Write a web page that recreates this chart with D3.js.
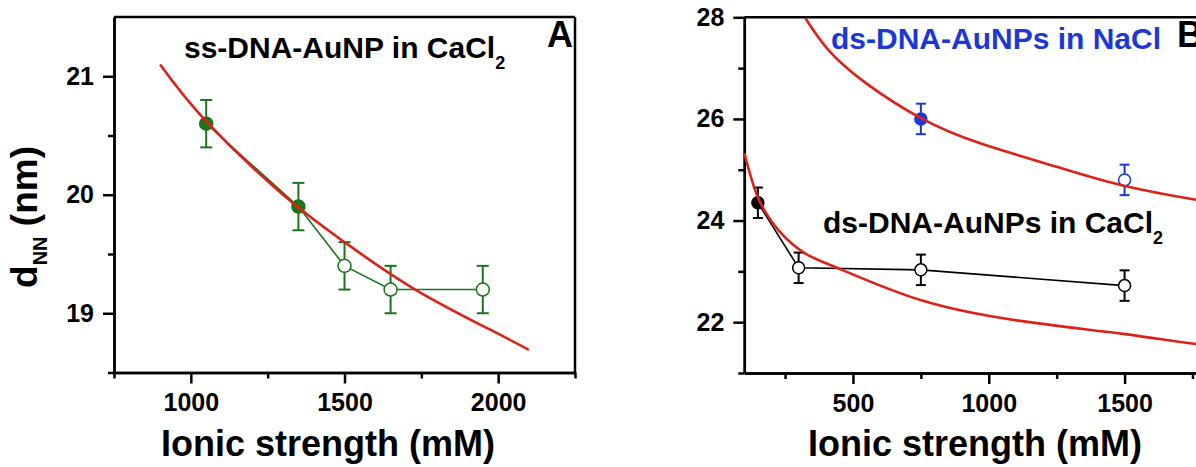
<!DOCTYPE html>
<html>
<head>
<meta charset="utf-8">
<script src="https://cdn.jsdelivr.net/npm/d3@7"></script>
<style>
  body { margin: 0; background: #fff; }
  svg { display: block; }
  text { font-family: "Liberation Sans", Arial, sans-serif; font-weight: bold; }
  .axis path, .axis line { stroke: #000; stroke-width: 2.5; }
  .axis text { font-size: 25px; fill: #000; font-family: "Liberation Sans", Arial, sans-serif; font-weight: bold; }
</style>
</head>
<body>
<div id="chart"></div>
<script>
// panel A: ss-DNA-AuNP in CaCl2
var aStrength = [1050, 1350, 1500, 1650, 1950];
var aDnn = [20.6, 19.9, 19.4, 19.2, 19.2];
var aErr = [0.2, 0.2, 0.2, 0.2, 0.2];
var aFilled = [true, true, false, false, false];
// red fitted line
var aFitX = [900, 1050, 1300, 1500, 1730, 1990, 2100];
var aFitY = [21.1, 20.62, 20.0, 19.6, 19.2, 18.84, 18.69];

// panel B: ds-DNA-AuNPs in CaCl2 and in NaCl
var caStrength = [150, 300, 750, 1500];
var caDnn = [24.35, 23.07, 23.03, 22.72];
var caErr = [0.3, 0.3, 0.3, 0.3];
var caFilled = [true, false, false, false];
var naStrength = [750, 1500];
var naDnn = [26.0, 24.8];
var naErr = [0.3, 0.3];
var naFilled = [true, false];
var naFitX = [325, 409, 549, 752, 968, 1249, 1494, 1763, 2000];
var naFitY = [27.98, 27.36, 26.7, 26.01, 25.52, 25.06, 24.69, 24.41, 24.22];
var caFitX = [100, 150, 227, 325, 464, 752, 1109, 1494, 1763, 2000];
var caFitY = [25.33, 24.46, 23.8, 23.35, 23.02, 22.43, 22.03, 21.77, 21.57, 21.45];

// ticks
var aMajorX = [1000, 1500, 2000];
var aMinorX = [750, 1250, 1750, 2250];
var aMajorY = [19, 20, 21];
var aMinorY = [18.5, 19.5, 20.5];
var bMajorX = [500, 1000, 1500];
var bMinorX = [250, 750, 1250, 1750];
var bMajorY = [22, 24, 26, 28];
var bMinorY = [21, 23, 25, 27];

var width = 1196;
var height = 467;
var red = "#de2118";
var green = "#1b741b";
var blue = "#1c38d4";

var svg = d3.select("#chart")
  .append("svg")
  .attr("width", width)
  .attr("height", height);

// scales
var xA = d3.scaleLinear().domain([750, 2250]).range([114, 575]);
var yA = d3.scaleLinear().domain([18.5, 21.5]).range([372.5, 17]);
var xB = d3.scaleLinear().domain([100, 2000]).range([744.3, 1260.4]);
var yB = d3.scaleLinear().domain([21, 28]).range([373, 17.3]);

// draw axes (major with labels, minor without)
function drawAxes(x, y, majorX, minorX, majorY, minorY) {
  svg.append("g").attr("class", "axis")
    .attr("transform", "translate(0," + y.range()[0] + ")")
    .call(d3.axisBottom(x).tickValues(minorX).tickSizeInner(6).tickSizeOuter(0).tickFormat(""));
  svg.append("g").attr("class", "axis")
    .attr("transform", "translate(0," + y.range()[0] + ")")
    .call(d3.axisBottom(x).tickValues(majorX).tickSizeInner(11).tickSizeOuter(0).tickPadding(10).tickFormat(d3.format("d")));
  svg.append("g").attr("class", "axis")
    .attr("transform", "translate(" + x.range()[0] + ",0)")
    .call(d3.axisLeft(y).tickValues(minorY).tickSizeInner(6).tickSizeOuter(0).tickFormat(""));
  svg.append("g").attr("class", "axis")
    .attr("transform", "translate(" + x.range()[0] + ",0)")
    .call(d3.axisLeft(y).tickValues(majorY).tickSizeInner(11).tickSizeOuter(0).tickPadding(9).tickFormat(d3.format("d")));
}

drawAxes(xA, yA, aMajorX, aMinorX, aMajorY, aMinorY);
drawAxes(xB, yB, bMajorX, bMinorX, bMajorY, bMinorY);

// the remaining frame lines
svg.append("line").attr("x1", xA(750)).attr("x2", xA(2250)).attr("y1", yA(21.5)).attr("y2", yA(21.5))
  .attr("stroke", "#000").attr("stroke-width", 2.5);
svg.append("line").attr("x1", xA(2250)).attr("x2", xA(2250)).attr("y1", yA(21.5)).attr("y2", yA(18.5))
  .attr("stroke", "#000").attr("stroke-width", 2.5);
svg.append("line").attr("x1", xB(100)).attr("x2", xB(2000)).attr("y1", yB(28)).attr("y2", yB(28))
  .attr("stroke", "#000").attr("stroke-width", 2.5);

// data series with error bars
function drawSeries(x, y, xs, ys, errs, filled, color, r, cap, connect) {
  var pts = xs.map(function(d, i) { return { x: d, y: ys[i], e: errs[i], f: filled[i] }; });
  var g = svg.append("g");
  if (connect) {
    g.append("path")
      .datum(pts)
      .attr("fill", "none")
      .attr("stroke", color)
      .attr("stroke-width", 1.6)
      .attr("d", d3.line().x(function(d) { return x(d.x); }).y(function(d) { return y(d.y); }));
  }
  var bars = g.selectAll(".err").data(pts).enter().append("g")
    .attr("stroke", color).attr("stroke-width", 2);
  bars.append("line")
    .attr("x1", function(d) { return x(d.x); })
    .attr("x2", function(d) { return x(d.x); })
    .attr("y1", function(d) { return y(d.y + d.e); })
    .attr("y2", function(d) { return y(d.y - d.e); });
  bars.append("line")
    .attr("x1", function(d) { return x(d.x) - cap / 2; })
    .attr("x2", function(d) { return x(d.x) + cap / 2; })
    .attr("y1", function(d) { return y(d.y + d.e); })
    .attr("y2", function(d) { return y(d.y + d.e); });
  bars.append("line")
    .attr("x1", function(d) { return x(d.x) - cap / 2; })
    .attr("x2", function(d) { return x(d.x) + cap / 2; })
    .attr("y1", function(d) { return y(d.y - d.e); })
    .attr("y2", function(d) { return y(d.y - d.e); });
  g.selectAll("circle").data(pts).enter().append("circle")
    .attr("cx", function(d) { return x(d.x); })
    .attr("cy", function(d) { return y(d.y); })
    .attr("r", r)
    .attr("fill", function(d) { return d.f ? color : "#fff"; })
    .attr("stroke", color)
    .attr("stroke-width", 1.5);
}

drawSeries(xA, yA, aStrength, aDnn, aErr, aFilled, green, 6.5, 12, true);
drawSeries(xB, yB, caStrength, caDnn, caErr, caFilled, "#000", 6, 10, true);
drawSeries(xB, yB, naStrength, naDnn, naErr, naFilled, blue, 6, 10, false);

// red fit curves
function drawFit(x, y, xs, ys) {
  var pts = xs.map(function(d, i) { return [x(d), y(ys[i])]; });
  svg.append("path")
    .datum(pts)
    .attr("fill", "none")
    .attr("stroke", red)
    .attr("stroke-width", 2.6)
    .attr("d", d3.line().curve(d3.curveNatural));
}
drawFit(xA, yA, aFitX, aFitY);
drawFit(xB, yB, naFitX, naFitY);
drawFit(xB, yB, caFitX, caFitY);

// axis titles
svg.append("text").attr("x", 328).attr("y", 456).attr("text-anchor", "middle")
  .style("font-size", "36px").text("Ionic strength (mM)");
svg.append("text").attr("x", 975).attr("y", 456).attr("text-anchor", "middle")
  .style("font-size", "36px").text("Ionic strength (mM)");

var yLabel = svg.append("text")
  .attr("transform", "translate(37,217) rotate(-90)")
  .attr("text-anchor", "middle")
  .style("font-size", "37px");
yLabel.append("tspan").text("d");
yLabel.append("tspan").attr("dy", 10).style("font-size", "20px").text("NN");
yLabel.append("tspan").attr("dy", -10).text(" (nm)");

// annotations
function label(x, y, main, sub, color) {
  var t = svg.append("text").attr("x", x).attr("y", y).attr("fill", color).style("font-size", "30px");
  t.append("tspan").text(main);
  if (sub) {
    t.append("tspan").attr("dy", 11).style("font-size", "18px").text(sub);
  }
}
label(184, 58, "ss-DNA-AuNP in CaCl", "2", "#000");
label(831, 49, "ds-DNA-AuNPs in NaCl", null, blue);
label(823, 233, "ds-DNA-AuNPs in CaCl", "2", "#000");

svg.append("text").attr("x", 573).attr("y", 47).attr("text-anchor", "end")
  .style("font-size", "36px").text("A");
svg.append("text").attr("x", 1177).attr("y", 47)
  .style("font-size", "36px").text("B");
</script>
</body>
</html>
